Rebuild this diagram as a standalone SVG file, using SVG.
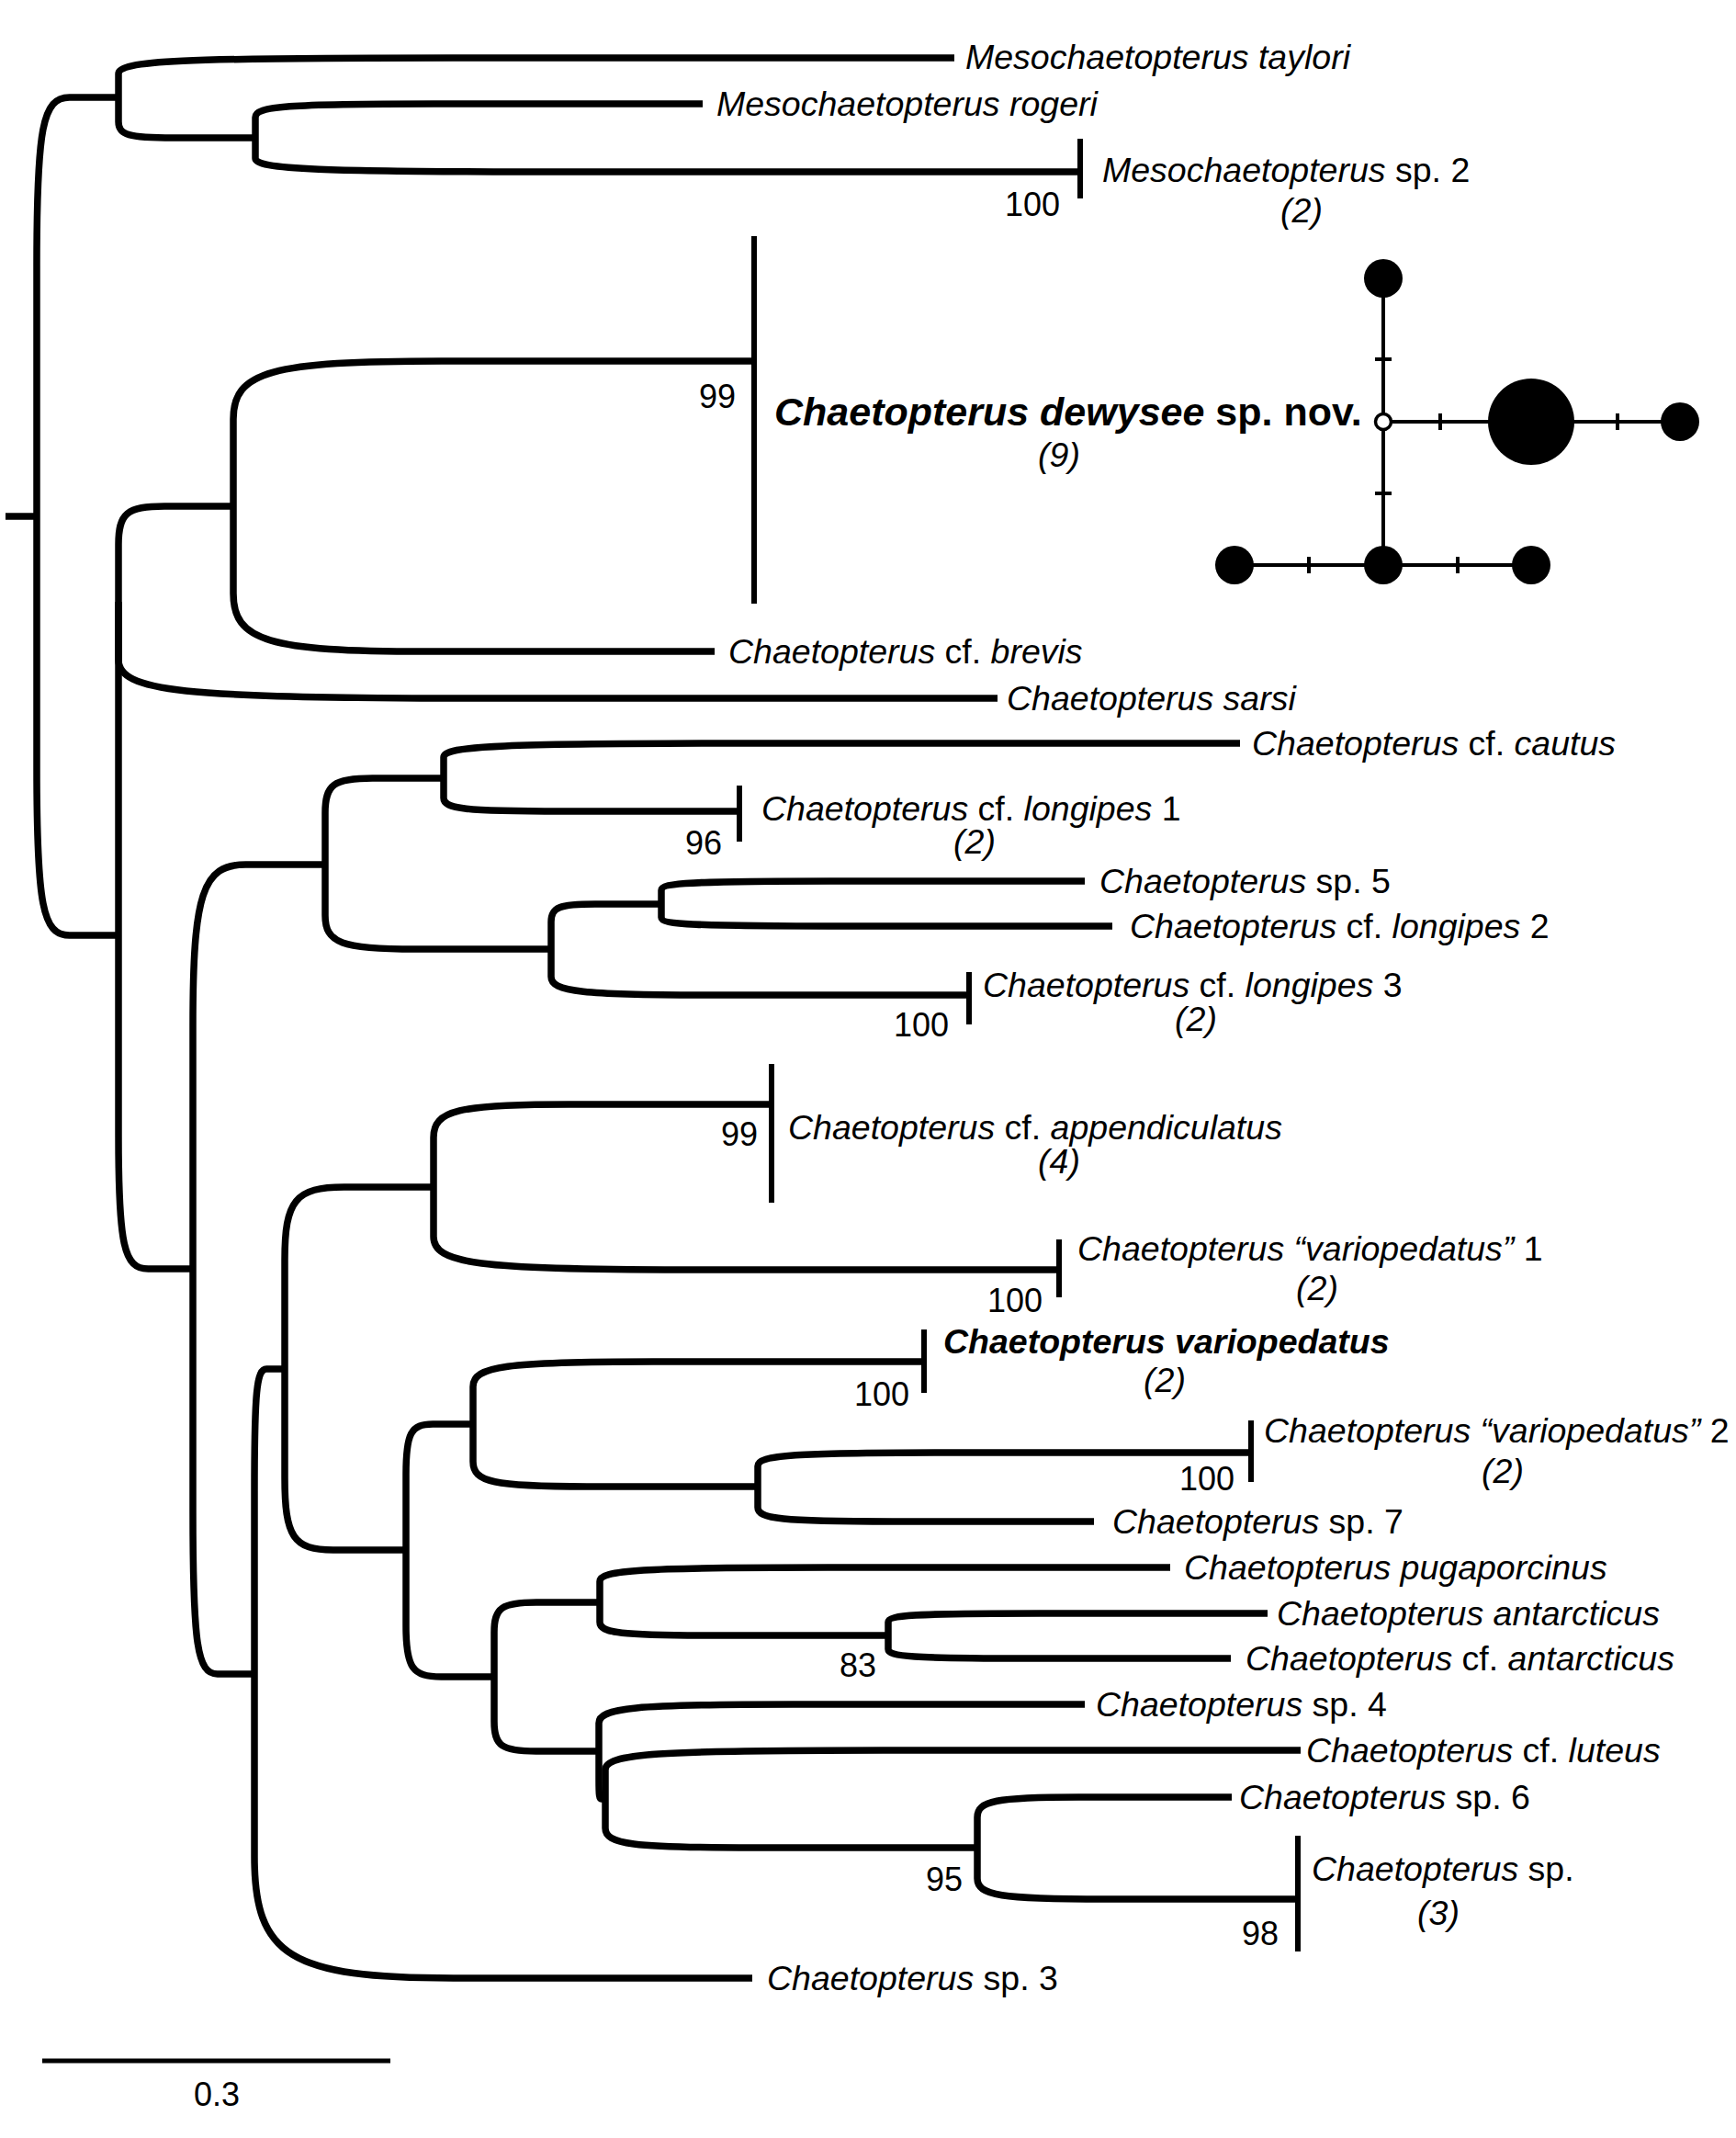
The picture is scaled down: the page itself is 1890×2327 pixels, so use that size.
<svg xmlns="http://www.w3.org/2000/svg" width="1890" height="2327" viewBox="0 0 1890 2327">
<style>
.br{fill:none;stroke:#000;stroke-width:7.5;stroke-linecap:butt;stroke-linejoin:round}
.bar{stroke:#000;stroke-width:6}
.t{font-family:"Liberation Sans",Arial,sans-serif;font-size:37.5px;fill:#000}
.i{font-style:italic}
.b{font-weight:bold}
.n{font-family:"Liberation Sans",Arial,sans-serif;font-size:36px;fill:#000;text-anchor:end}
.c{font-family:"Liberation Sans",Arial,sans-serif;font-size:37.5px;font-style:italic;fill:#000;text-anchor:middle}
.hl{stroke:#000;stroke-width:4;fill:none}
</style>
<rect width="1890" height="2327" fill="#fff"/>
<g id="branches">
<path class="br" d="M6 562H40"/>
<path class="br" d="M40 562V288.4C40 138.8 46.4 106 75.6 106H129"/>
<path class="br" d="M40 562V835.6C40 985.2 46.4 1018 75.6 1018H129"/>
<path class="br" d="M129 106V80.2C129 66.1 194.5 63 493 63H1039"/>
<path class="br" d="M129 106V132.4C129 146.8 139.7 150 188.6 150H278"/>
<path class="br" d="M278 150V127.8C278 115.7 313.1 113 472.8 113H765"/>
<path class="br" d="M278 150V172.2C278 184.3 342.7 187 637.2 187H1176"/>
<path class="br" d="M129 1018V655"/>
<path class="br" d="M129 655V592.6C129 558.5 138 551 179 551H254"/>
<path class="br" d="M129 655V718C129 752.4 197.9 760 511.8 760H1086"/>
<path class="br" d="M129 1018V1235.8C129 1354.9 134.8 1381 161.4 1381H210"/>
<path class="br" d="M254 551V456.2C254 404.4 294.8 393 480.8 393H821"/>
<path class="br" d="M254 551V645.8C254 697.6 291.7 709 463.6 709H778"/>
<path class="br" d="M210 1381V1117C210 972.7 220.4 941 267.6 941H354"/>
<path class="br" d="M210 1381V1645.6C210 1790.2 214.8 1822 236.8 1822H277"/>
<path class="br" d="M354 941V884.6C354 853.8 363.3 847 405.6 847H483"/>
<path class="br" d="M354 941V996.2C354 1026.4 371.7 1033 452.4 1033H600"/>
<path class="br" d="M483 847V824.2C483 811.7 545.4 809 829.8 809H1350"/>
<path class="br" d="M483 847V868.6C483 880.4 506.2 883 611.8 883H805"/>
<path class="br" d="M600 1033V1003.6C600 987.5 608.6 984 648 984H720"/>
<path class="br" d="M600 1033V1063C600 1079.4 632.8 1083 782 1083H1055"/>
<path class="br" d="M720 984V969C720 960.8 753.2 959 904.4 959H1181"/>
<path class="br" d="M720 984V998.4C720 1006.3 755.4 1008 916.4 1008H1211"/>
<path class="br" d="M277 1822V1622.8C277 1513.9 279.4 1490 290.2 1490H310"/>
<path class="br" d="M277 1822V2020.6C277 2129.2 316 2153 493.8 2153H819"/>
<path class="br" d="M310 1490V1371.2C310 1306.3 321.7 1292 374.8 1292H472"/>
<path class="br" d="M310 1490V1608.2C310 1672.8 319.5 1687 362.8 1687H442"/>
<path class="br" d="M472 1292V1238C472 1208.5 498.5 1202 619.2 1202H840"/>
<path class="br" d="M472 1292V1346C472 1375.5 521 1382 744.4 1382H1153"/>
<path class="br" d="M442 1687V1604.8C442 1559.9 447.3 1550 471.2 1550H515"/>
<path class="br" d="M442 1687V1769.8C442 1815.1 448.9 1825 480.4 1825H538"/>
<path class="br" d="M515 1550V1509.2C515 1486.9 550.4 1482 711.4 1482H1006"/>
<path class="br" d="M515 1550V1590.8C515 1613.1 537.3 1618 639 1618H825"/>
<path class="br" d="M825 1618V1595.8C825 1583.7 863.7 1581 1039.8 1581H1362"/>
<path class="br" d="M825 1618V1640.8C825 1653.3 851.4 1656 971.4 1656H1191"/>
<path class="br" d="M538 1825V1776.4C538 1749.8 546.3 1744 584 1744H653"/>
<path class="br" d="M538 1825V1873.6C538 1900.2 546.2 1906 583.6 1906H652"/>
<path class="br" d="M653 1744V1721.2C653 1708.7 697.7 1706 901.4 1706H1274"/>
<path class="br" d="M653 1744V1765.6C653 1777.4 675.6 1780 778.6 1780H967"/>
<path class="br" d="M967 1780V1765.6C967 1757.7 996.7 1756 1132.2 1756H1380"/>
<path class="br" d="M967 1780V1795C967 1803.2 993.9 1805 1116.2 1805H1340"/>
<path class="br" d="M652 1906V1875.4C652 1858.7 690.1 1855 863.6 1855H1181"/>
<path class="br" d="M652 1906V1937.2C652 1954.3 652.5 1958 654.8 1958H659"/>
<path class="br" d="M659 1958V1926.2C659 1908.8 713.5 1905 961.8 1905H1416"/>
<path class="br" d="M659 1958V1989.8C659 2007.2 688.2 2011 821 2011H1064"/>
<path class="br" d="M1064 2011V1978C1064 1960 1083.9 1956 1174.8 1956H1341"/>
<path class="br" d="M1064 2011V2044.6C1064 2063 1089.1 2067 1203.6 2067H1413"/>
</g>
<g id="tip-taylori"><text class="t i" x="1051" y="75">Mesochaetopterus taylori</text></g>
<g id="tip-rogeri"><text class="t i" x="780" y="126">Mesochaetopterus rogeri</text></g>
<g id="tip-meso-sp2"><line class="bar" x1="1176" y1="151" x2="1176" y2="216"/><text class="t" x="1200" y="198"><tspan class="i">Mesochaetopterus</tspan> sp. 2</text><text class="c" x="1417" y="242">(2)</text><text class="n" x="1154" y="235">100</text></g>
<g id="tip-dewysee"><line class="bar" x1="821" y1="257" x2="821" y2="657"/><text class="t b" x="843" y="463" style="font-size:43px"><tspan class="i">Chaetopterus dewysee</tspan> sp. nov.</text><text class="c" x="1153" y="508">(9)</text><text class="n" x="801" y="444">99</text></g>
<g id="tip-brevis"><text class="t" x="793" y="722"><tspan class="i">Chaetopterus</tspan> cf. <tspan class="i">brevis</tspan></text></g>
<g id="tip-sarsi"><text class="t i" x="1096" y="773">Chaetopterus sarsi</text></g>
<g id="tip-cautus"><text class="t" x="1363" y="822"><tspan class="i">Chaetopterus</tspan> cf. <tspan class="i">cautus</tspan></text></g>
<g id="tip-longipes1"><line class="bar" x1="805" y1="855" x2="805" y2="916"/><text class="t" x="829" y="893"><tspan class="i">Chaetopterus</tspan> cf. <tspan class="i">longipes</tspan> 1</text><text class="c" x="1061" y="929">(2)</text><text class="n" x="786" y="930">96</text></g>
<g id="tip-sp5"><text class="t" x="1197" y="972"><tspan class="i">Chaetopterus</tspan> sp. 5</text></g>
<g id="tip-longipes2"><text class="t" x="1230" y="1021"><tspan class="i">Chaetopterus</tspan> cf. <tspan class="i">longipes</tspan> 2</text></g>
<g id="tip-longipes3"><line class="bar" x1="1055" y1="1058" x2="1055" y2="1115"/><text class="t" x="1070" y="1085"><tspan class="i">Chaetopterus</tspan> cf. <tspan class="i">longipes</tspan> 3</text><text class="c" x="1302" y="1122">(2)</text><text class="n" x="1033" y="1128">100</text></g>
<g id="tip-appendiculatus"><line class="bar" x1="840" y1="1158" x2="840" y2="1309"/><text class="t" x="858" y="1240"><tspan class="i">Chaetopterus</tspan> cf. <tspan class="i">appendiculatus</tspan></text><text class="c" x="1153" y="1277">(4)</text><text class="n" x="825" y="1247">99</text></g>
<g id="tip-variopedatus1"><line class="bar" x1="1153" y1="1349" x2="1153" y2="1412"/><text class="t" x="1173" y="1372"><tspan class="i">Chaetopterus “variopedatus”</tspan> 1</text><text class="c" x="1434" y="1415">(2)</text><text class="n" x="1135" y="1428">100</text></g>
<g id="tip-variopedatus"><line class="bar" x1="1006" y1="1447" x2="1006" y2="1516"/><text class="t b i" x="1027" y="1473">Chaetopterus variopedatus</text><text class="c" x="1268" y="1515">(2)</text><text class="n" x="990" y="1530">100</text></g>
<g id="tip-variopedatus2"><line class="bar" x1="1362" y1="1546" x2="1362" y2="1613"/><text class="t" x="1376" y="1570"><tspan class="i">Chaetopterus “variopedatus”</tspan> 2</text><text class="c" x="1636" y="1614">(2)</text><text class="n" x="1344" y="1622">100</text></g>
<g id="tip-sp7"><text class="t" x="1211" y="1669"><tspan class="i">Chaetopterus</tspan> sp. 7</text></g>
<g id="tip-pugaporcinus"><text class="t i" x="1289" y="1719">Chaetopterus pugaporcinus</text></g>
<g id="tip-antarcticus"><text class="t i" x="1390" y="1769">Chaetopterus antarcticus</text></g>
<g id="tip-cf-antarcticus"><text class="t" x="1356" y="1818"><tspan class="i">Chaetopterus</tspan> cf. <tspan class="i">antarcticus</tspan></text><text class="n" x="954" y="1825">83</text></g>
<g id="tip-sp4"><text class="t" x="1193" y="1868"><tspan class="i">Chaetopterus</tspan> sp. 4</text></g>
<g id="tip-luteus"><text class="t" x="1422" y="1918"><tspan class="i">Chaetopterus</tspan> cf. <tspan class="i">luteus</tspan></text></g>
<g id="tip-sp6"><text class="t" x="1349" y="1969"><tspan class="i">Chaetopterus</tspan> sp. 6</text></g>
<g id="tip-sp3clade"><line class="bar" x1="1413" y1="1998" x2="1413" y2="2124"/><text class="t" x="1428" y="2047"><tspan class="i">Chaetopterus</tspan> sp.</text><text class="c" x="1566" y="2095">(3)</text><text class="n" x="1392" y="2117">98</text><text class="n" x="1048" y="2058">95</text></g>
<g id="tip-sp3"><text class="t" x="835" y="2166"><tspan class="i">Chaetopterus</tspan> sp. 3</text></g>
<g id="haplotype-network">
<path class="hl" d="M1506 303V615M1506 459H1829M1344 615H1667"/>
<path class="hl" d="M1497 391H1515M1497 537H1515M1568 450V468M1761 450V468M1425 606V624M1587 606V624"/>
<circle cx="1506" cy="303" r="21"/>
<circle cx="1667" cy="459" r="47"/>
<circle cx="1829" cy="459" r="21"/>
<circle cx="1344" cy="615" r="21"/>
<circle cx="1506" cy="615" r="21"/>
<circle cx="1667" cy="615" r="21"/>
<circle cx="1506" cy="459" r="8.5" fill="#fff" stroke="#000" stroke-width="3.5"/>
</g>
<g id="scale-bar">
<line x1="46" y1="2243" x2="425" y2="2243" stroke="#000" stroke-width="5"/>
<text class="t" x="236" y="2292" text-anchor="middle" style="font-size:36px">0.3</text>
</g>
</svg>
